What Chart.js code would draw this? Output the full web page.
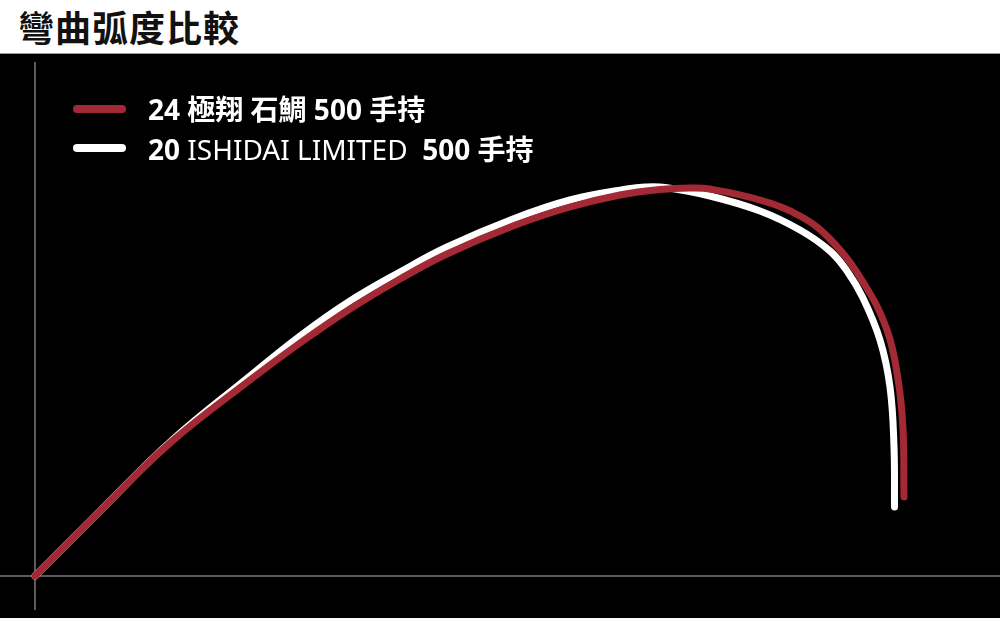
<!DOCTYPE html>
<html>
<head>
<meta charset="utf-8">
<script src="https://cdn.jsdelivr.net/npm/chart.js@4.4.1/dist/chart.umd.min.js"></script>
<style>
  html,body{margin:0;padding:0;background:#000;}
  body{width:1000px;height:618px;position:relative;overflow:hidden;font-family:"Noto Sans","Noto Sans CJK TC",sans-serif;}
  #header{position:absolute;left:0;top:0;width:1000px;height:53px;background:#fff;border-bottom:1px solid #9a9a9a;}
  #title{position:absolute;left:18px;top:1px;font-family:"Noto Sans CJK TC",sans-serif;font-weight:700;font-size:36px;line-height:50px;color:#111;letter-spacing:1px;}
  #wrap{position:absolute;left:0;top:54px;width:1000px;height:564px;background:#000;}
  #legend{position:absolute;left:73px;top:88px;}
  .item{position:relative;height:40px;}
  .swatch{position:absolute;left:0;width:53px;height:8px;border-radius:4px;}
  .lbl{position:absolute;left:75px;white-space:pre;color:#fff;font-size:28px;font-weight:700;line-height:32px;font-family:"Noto Sans","Noto Sans CJK TC",sans-serif;}
  .lbl .reg{font-weight:400;}
</style>
</head>
<body>
<div id="header"><div id="title">彎曲弧度比較</div></div>
<div id="wrap"><canvas id="c" width="1000" height="564"></canvas></div>
<div id="legend"></div>
<script>
// Horizontal distance from the butt and height of each rod curve
const seriesNames = ["24 極翔 石鯛 500 手持", "20 ISHIDAI LIMITED  500 手持"];
const seriesColors = ["rgb(163,42,52)", "#ffffff"];

const redX = [0, 65, 135, 215, 265, 315, 365, 412, 478, 535, 585, 625, 655, 675, 725, 765, 795, 828, 852, 863, 868, 869];
const redY = [0, 65, 133, 196, 233, 267, 297, 322, 350, 369, 381, 386.5, 388, 387, 376, 360, 337, 294, 246, 197, 147, 79];

const whiteX = [0, 65, 135, 215, 265, 315, 365, 412, 478, 535, 592, 610, 630, 675, 725, 765, 795, 812, 828, 845, 855, 859, 859.5];
const whiteY = [0, 65, 134, 200, 240, 275, 304, 329, 357, 376, 387, 389, 388.5, 380, 365, 346, 325, 305, 278, 236, 189, 129, 69];

const toPts = (xs, ys) => xs.map((x, i) => ({x: x, y: ys[i]}));

new Chart(document.getElementById('c'), {
  type: 'scatter',
  data: {
    datasets: [
      {label: seriesNames[0], data: toPts(redX, redY), borderColor: seriesColors[0], backgroundColor: seriesColors[0]},
      {label: seriesNames[1], data: toPts(whiteX, whiteY), borderColor: seriesColors[1], backgroundColor: seriesColors[1]}
    ]
  },
  options: {
    responsive: false,
    animation: false,
    showLine: true,
    layout: {padding: {top: 8, bottom: 8, left: 0, right: 0}},
    elements: {
      point: {radius: 0, hoverRadius: 0},
      line: {borderWidth: 7, tension: 0.4, borderCapStyle: 'round', borderJoinStyle: 'round'}
    },
    plugins: {legend: {display: false}, tooltip: {enabled: false}},
    scales: {
      x: {
        type: 'linear', min: -35, max: 965,
        afterBuildTicks: s => { s.ticks = [{value: 0}]; },
        ticks: {display: false},
        border: {display: false},
        grid: {color: '#5c5c5c', lineWidth: 2, drawTicks: false}
      },
      y: {
        type: 'linear', min: -34, max: 514,
        afterBuildTicks: s => { s.ticks = [{value: 0}]; },
        ticks: {display: false},
        border: {display: false},
        grid: {color: '#5c5c5c', lineWidth: 2, drawTicks: false}
      }
    }
  }
});

// HTML legend with mixed weights (Latin words in regular weight)
const legend = document.getElementById('legend');
[0, 1].forEach((i, k) => {
  const item = document.createElement('div');
  item.className = 'item';
  const sw = document.createElement('div');
  sw.className = 'swatch';
  sw.style.background = seriesColors[i];
  sw.style.top = (k === 0 ? 17 : 16) + 'px';
  const lbl = document.createElement('div');
  lbl.className = 'lbl';
  lbl.style.top = '5px';
  const parts = seriesNames[i].split(/([A-Z][A-Z ]*[A-Z])/);
  parts.forEach(p => {
    const s = document.createElement('span');
    if (/^[A-Z][A-Z ]*[A-Z]$/.test(p)) s.className = 'reg';
    s.textContent = p;
    lbl.appendChild(s);
  });
  item.appendChild(sw);
  item.appendChild(lbl);
  legend.appendChild(item);
});
</script>
</body>
</html>
